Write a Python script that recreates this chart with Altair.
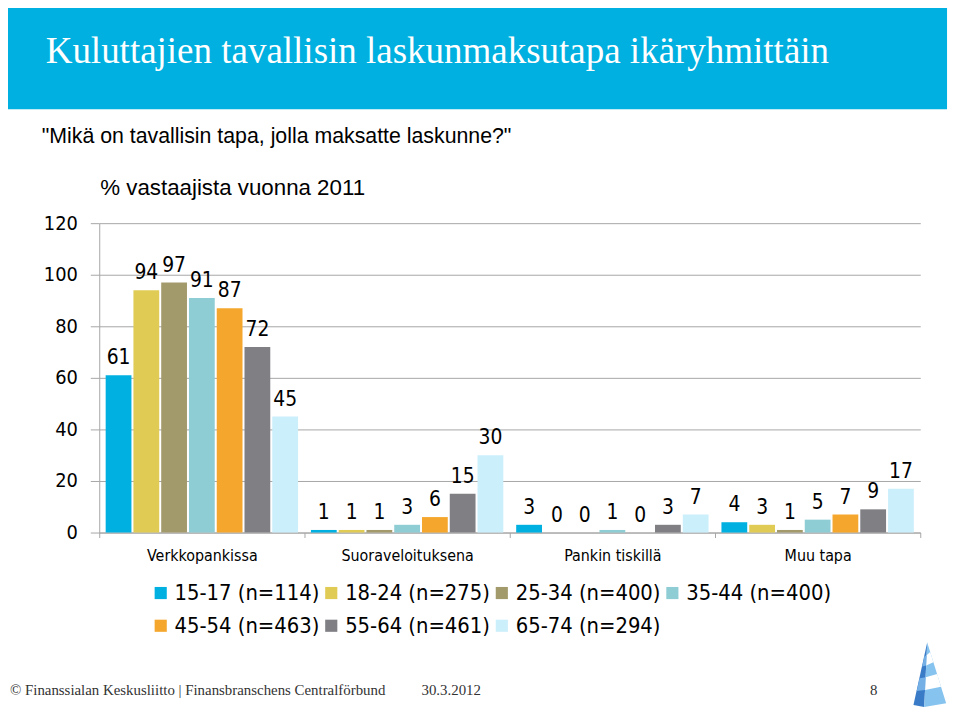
import altair as alt
import pandas as pd

groups = ["Verkkopankissa", "Suoraveloituksena", "Pankin tiskillä", "Muu tapa"]
ages = ["15-17 (n=114)", "18-24 (n=275)", "25-34 (n=400)", "35-44 (n=400)",
        "45-54 (n=463)", "55-64 (n=461)", "65-74 (n=294)"]
verkkopankissa = [61, 94, 97, 91, 87, 72, 45]
suoraveloituksena = [1, 1, 1, 3, 6, 15, 30]
pankin_tiskilla = [3, 0, 0, 1, 0, 3, 7]
muu_tapa = [4, 3, 1, 5, 7, 9, 17]
colors = ["#00B0E0", "#E0CB55", "#A39A6C", "#8FCDD5", "#F5A72D", "#807F84", "#CCEFFC"]
y_ticks = [0, 20, 40, 60, 80, 100, 120]

series = [verkkopankissa, suoraveloituksena, pankin_tiskilla, muu_tapa]
rows = []
for g, vals in zip(groups, series):
    for a, v in zip(ages, vals):
        rows.append({"group": g, "age": a, "value": v})
df = pd.DataFrame(rows)

LBL = "DejaVu Sans Condensed, DejaVu Sans"

x_enc = alt.X("group:N", sort=groups,
              scale=alt.Scale(paddingInner=0, paddingOuter=0),
              axis=alt.Axis(title=None, labelAngle=0, tickBand="extent", tickSize=5,
                            labelPadding=10, labelFontSize=16, labelFont=LBL,
                            labelColor="#000000", domainColor="#A6A6A6",
                            tickColor="#A6A6A6", grid=False, labelLimit=300))
xo_enc = alt.XOffset("age:N", sort=ages,
                     scale=alt.Scale(paddingInner=0.0714, paddingOuter=0.232))
y_enc = alt.Y("value:Q", scale=alt.Scale(domain=[0, 120], nice=False),
              axis=alt.Axis(title=None, values=y_ticks, grid=True, gridColor="#A6A6A6",
                            tickSize=9, tickColor="#A6A6A6", domainColor="#A6A6A6",
                            labelPadding=13, labelFontSize=20, labelFont=LBL,
                            labelColor="#000000"))

bars = alt.Chart(df).mark_bar().encode(
    x=x_enc, xOffset=xo_enc, y=y_enc,
    color=alt.Color("age:N", sort=ages, scale=alt.Scale(domain=ages, range=colors),
                    legend=alt.Legend(orient="none", legendX=51, legendY=362,
                                      direction="horizontal", columns=4,
                                      symbolType="square", symbolSize=150,
                                      symbolStrokeWidth=0, labelFontSize=22,
                                      labelFont=LBL, labelColor="#000000",
                                      labelOffset=3, columnPadding=0, rowPadding=11,
                                      labelLimit=400, title=None, padding=0))
)

labels = alt.Chart(df).mark_text(baseline="alphabetic", dy=-11, fontSize=21,
                                 font=LBL, color="#000000").encode(
    x=alt.X("group:N", sort=groups), xOffset=alt.XOffset("age:N", sort=ages),
    y=alt.Y("value:Q"), text=alt.Text("value:Q")
)

one = pd.DataFrame({"k": [0]})

header = alt.Chart(one).mark_rect(color="#00B0E0").encode(
    x=alt.value(-96), x2=alt.value(855), y=alt.value(-217), y2=alt.value(-115))
title = alt.Chart(one).mark_text(align="left", baseline="middle", fontSize=37.3,
                                 font="Liberation Serif", color="#FFFFFF").encode(
    x=alt.value(-54), y=alt.value(-173),
    text=alt.value("Kuluttajien tavallisin laskunmaksutapa ikäryhmittäin"))
question = alt.Chart(one).mark_text(align="left", baseline="middle", fontSize=21.5,
                                    font="Liberation Sans", color="#000000").encode(
    x=alt.value(-58), y=alt.value(-87),
    text=alt.value('"Mikä on tavallisin tapa, jolla maksatte laskunne?"'))
subtitle = alt.Chart(one).mark_text(align="left", baseline="middle", fontSize=22.5,
                                    font="Liberation Sans", color="#000000").encode(
    x=alt.value(1), y=alt.value(-35), text=alt.value("% vastaajista vuonna 2011"))
footer = alt.Chart(one).mark_text(align="left", baseline="middle", fontSize=15,
                                  font="Liberation Serif", color="#333333").encode(
    x=alt.value(-90), y=alt.value(471),
    text=alt.value("© Finanssialan Keskusliitto | Finansbranschens Centralförbund"))
date = alt.Chart(one).mark_text(align="left", baseline="middle", fontSize=15,
                                font="Liberation Serif", color="#333333").encode(
    x=alt.value(325), y=alt.value(471), text=alt.value("30.3.2012"))
page = alt.Chart(one).mark_text(align="center", baseline="middle", fontSize=15,
                                font="Liberation Serif", color="#333333").encode(
    x=alt.value(781), y=alt.value(471), text=alt.value("8"))

LOGO_X, LOGO_Y, LOGO_SIZE = 834, 455, 4356


def logo_piece(path, color):
    return alt.Chart(one).mark_point(
        shape=path, filled=True, opacity=1, color=color, strokeWidth=0
    ).encode(x=alt.value(LOGO_X), y=alt.value(LOGO_Y), size=alt.value(LOGO_SIZE))


logo_left = logo_piece("M0.03,-0.97L-0.39,0.94L-0.06,1Z", "#3A7BC8")
logo_right = logo_piece("M0.03,-0.97L-0.06,1L0.61,0.88Z", "#86C3EE")
logo_right_stripes = logo_piece(
    "M0.012,-0.58L0.121,-0.68L0.218,-0.37L-0.002,-0.27Z "
    "M-0.018,0.09L0.334,-0.01L0.453,0.38L-0.036,0.48Z", "#FFFFFF")
logo_left_stripes = logo_piece(
    "M-0.056,-0.55L0.012,-0.58L-0.002,-0.27L-0.124,-0.24Z "
    "M-0.203,0.12L-0.018,0.09L-0.036,0.48L-0.289,0.51Z", "#74B0E6")

chart = alt.layer(
    header, title, question, subtitle, bars, labels, footer, date, page,
    logo_left, logo_right, logo_right_stripes, logo_left_stripes
).properties(
    width=828, height=312,
    padding={"left": 92, "top": 214, "right": 32, "bottom": 179},
    autosize=alt.AutoSizeParams(type="none"),
    background="#FFFFFF"
).configure_view(stroke=None)

chart.save("out.html", embed_options={"renderer": "svg", "actions": False})
